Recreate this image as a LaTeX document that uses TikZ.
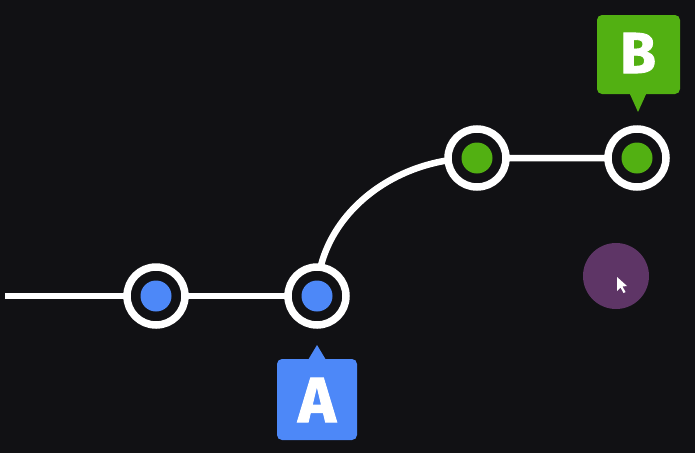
\documentclass[tikz,border=0pt]{standalone}
\usepackage{fontspec}
\setmainfont{Fira Sans}
\newfontfamily\tagfont{Fira Sans}[BoldFeatures={FakeBold=1.5}]
\begin{document}
\begin{tikzpicture}[x=1pt,y=-1pt,
  track/.style={draw=white,line width=6.5pt},
  commit/.style={circle,draw=white,line width=7.5pt,fill=bgc,minimum size=58pt,inner sep=0pt},
  dotblue/.style={circle,fill=dotb,minimum size=31pt,inner sep=0pt},
  dotgreen/.style={circle,fill=dotg,minimum size=31pt,inner sep=0pt},
  tagtext/.style={text=white,font=\tagfont\bfseries\fontsize{64}{64}\selectfont,inner sep=0pt}]
\definecolor{bgc}{HTML}{111114}
\definecolor{dotb}{HTML}{4D88F8}
\definecolor{dotg}{HTML}{52B012}
\definecolor{purp}{HTML}{5E3566}
\fill[bgc] (0,0) rectangle (695,453);
\useasboundingbox (0,0) rectangle (695,453);
% coordinates
\coordinate (start) at (5,296);
\coordinate (c1) at (156,296);
\coordinate (c2) at (317,296);
\coordinate (c3) at (477,158);
\coordinate (c4) at (637,158);
% tracks
\draw[track] (start) -- (c1) -- (c2);
\draw[track] (c2) .. controls (317,220) and (389,158) .. (c3) -- (c4);
% commits
\node[commit] (n1) at (c1) {};
\node[commit] (n2) at (c2) {};
\node[commit] (n3) at (c3) {};
\node[commit] (n4) at (c4) {};
\node[dotblue] (d1) at (c1) {};
\node[dotblue] (d2) at (c2) {};
\node[dotgreen] (d3) at (c3) {};
\node[dotgreen] (d4) at (c4) {};
% tag A
\fill[dotb,rounded corners=5pt] (277,359) rectangle (357,440);
\fill[dotb] (308,360) -- (317,345) -- (326,360) -- cycle;
\node[tagtext] (tA) at (317,400) {A};
% tag B
\fill[dotg,rounded corners=5pt] (597,15) rectangle (680,94);
\fill[dotg] (629,92) -- (638,112) -- (647,92) -- cycle;
\node[tagtext,font=\tagfont\bfseries\fontsize{58}{58}\selectfont] (tB) at (638,53) {B};
% purple click
\node[circle,fill=purp,minimum size=66pt,inner sep=0pt] (click) at (616,276) {};
\fill[white] (617,277) -- (617,291) -- (620.5,287.5) -- (623.5,293) -- (625.5,292) -- (622.5,286.5) -- (627,286) -- cycle;
\end{tikzpicture}
\end{document}
